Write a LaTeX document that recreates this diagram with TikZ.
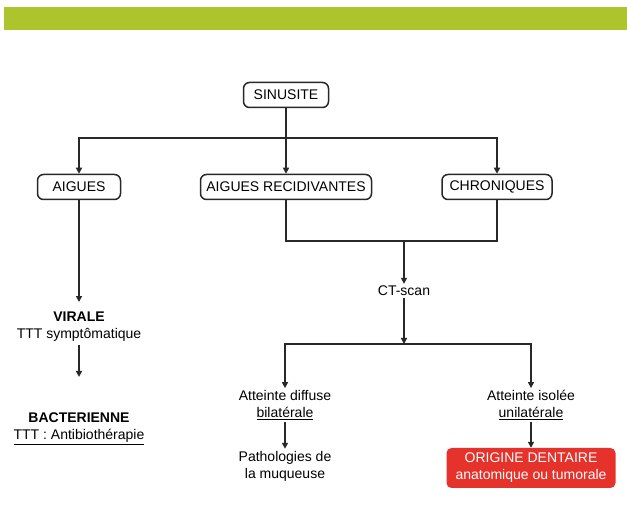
\documentclass[tikz,border=0pt]{standalone}
\usepackage{fontspec}
\setmainfont{Liberation Sans}
\usetikzlibrary{arrows.meta, positioning}
\definecolor{barGreen}{RGB}{173,196,44}
\definecolor{lineGray}{RGB}{40,40,40}
\definecolor{originRed}{RGB}{229,50,42}

\begin{document}
\begin{tikzpicture}[
    x=1pt, y=1pt,
    box/.style={rectangle, draw=lineGray, line width=1.5pt, rounded corners=6pt, minimum height=25pt, inner xsep=3pt, align=center, font=\fontsize{14}{17}\selectfont},
    txt/.style={align=center, inner sep=2pt, font=\fontsize{14}{17}\selectfont},
    redbox/.style={rectangle, fill=originRed, rounded corners=5pt, text=white, minimum width=169pt, minimum height=40pt, align=center, font=\fontsize{14}{17}\selectfont},
    arrow/.style={-{Triangle[length=6pt,width=6pt]}, line width=1.6pt, draw=lineGray},
    link/.style={line width=1.6pt, draw=lineGray}
]
    \useasboundingbox (0,0) rectangle (627,532);
    \fill[barGreen] (4,525) rectangle (627,502);

    % top level
    \node[box, minimum width=85pt] (sinus) at (286,437) {SINUSITE};
    \node[box, minimum width=83pt] (aigues) at (79,345) {AIGUES};
    \node[box, minimum width=171pt] (recid) at (286,345) {AIGUES RECIDIVANTES};
    \node[box, minimum width=110pt] (chron) at (497,345) {CHRONIQUES};
    \coordinate (split) at (286,394);

    % left branch
    \node[txt] (virale) at (79,205) {\textbf{VIRALE}\\TTT symptômatique};
    \node[txt] (bacter) at (79,103) {\textbf{BACTERIENNE}\\\underline{TTT : Antibiothérapie}};

    % right branch
    \coordinate (join) at (404,291);
    \node[txt] (ct) at (404,241) {CT-scan};
    \coordinate (split2) at (404,188);
    \node[txt] (diffuse) at (285,127) {Atteinte diffuse\\\underline{bilatérale}};
    \node[txt] (isolee) at (531,127) {Atteinte isolée\\\underline{unilatérale}};
    \node[txt] (patho) at (285,66) {Pathologies de\\la muqueuse};
    \node[redbox] (origine) at (531,64) {ORIGINE DENTAIRE\\anatomique ou tumorale};

    \draw[arrow] (sinus) -- (recid);
    \draw[arrow] (split) -| (aigues);
    \draw[arrow] (split) -| (chron);
    \draw[arrow, shorten >=8pt] (aigues) -- (virale);
    \draw[arrow, shorten >=34pt, shorten <=1pt] (virale) -- (bacter);
    \draw[link] (recid.south) |- (join) -| (chron.south);
    \draw[arrow] (join) -- (ct);
    \draw[arrow] (ct) -- (split2);
    \draw[arrow] (split2) -| (diffuse);
    \draw[arrow] (split2) -| (isolee);
    \draw[arrow] (diffuse) -- (patho);
    \draw[arrow] (isolee) -- (origine);
\end{tikzpicture}
\end{document}
